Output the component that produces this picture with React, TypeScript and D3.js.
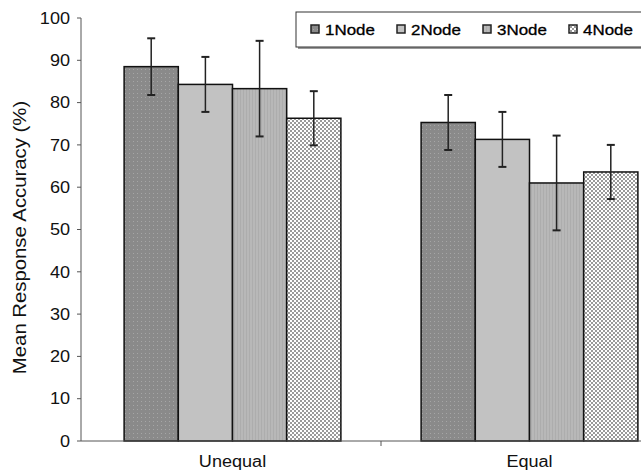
import React from 'react'
import * as d3 from 'd3'

const width = 641
const height = 473

const categories = ['Unequal', 'Equal']
const seriesNames = ['1Node', '2Node', '3Node', '4Node']
const means = [
  [88.5, 84.3, 83.3, 76.3],
  [75.3, 71.3, 61.0, 63.6],
]
const errors = [
  [6.7, 6.5, 11.3, 6.4],
  [6.5, 6.5, 11.2, 6.4],
]
const yTicks = [0, 10, 20, 30, 40, 50, 60, 70, 80, 90, 100]

const fills = ['url(#p1)', 'url(#p2)', 'url(#p3)', 'url(#p4)']

const margin = { left: 81, top: 18, bottom: 441 }
const plotRight = 678

// the original's Helvetica is a bit wider than Arial, so stretch text horizontally
const stretch = 1.13

export default function App() {
  const y = d3.scaleLinear().domain([0, 100]).range([margin.bottom, margin.top])
  const x0 = d3.scaleBand().domain(categories).range([84, plotRight]).paddingInner(0).paddingOuter(0)
  // excel-style gap width
  const inner = d3.scaleBand().domain(seriesNames).range([0, x0.bandwidth()]).paddingOuter(0.74).paddingInner(0)
  const font = 'Arial, "Liberation Sans", sans-serif'

  return (
    <svg width={width} height={height} style={{ position: 'absolute', left: 0, top: 0, background: '#fff' }}>
      <defs>
        <pattern id="p1" width="4" height="4" patternUnits="userSpaceOnUse">
          <rect width="4" height="4" fill="#8a8a8a" />
          <rect x="1" y="1" width="1" height="1" fill="#a6a6a6" />
        </pattern>
        <pattern id="p2" width="4" height="4" patternUnits="userSpaceOnUse">
          <rect width="4" height="4" fill="#c2c2c2" />
        </pattern>
        <pattern id="p3" width="3" height="4" patternUnits="userSpaceOnUse">
          <rect width="3" height="4" fill="#b8b8b8" />
          <rect x="0" width="1" height="4" fill="#adadad" />
        </pattern>
        <pattern id="p4" width="4" height="4" patternUnits="userSpaceOnUse">
          <rect width="4" height="4" fill="#ffffff" />
          <rect x="0" y="0" width="2" height="2" fill="#9a9a9a" />
          <rect x="2" y="2" width="2" height="2" fill="#9a9a9a" />
        </pattern>
      </defs>

      {/* y axis */}
      <line x1={margin.left} x2={margin.left} y1={margin.top} y2={margin.bottom} stroke="#555" strokeWidth={1} />
      {yTicks.map(t => (
        <g key={t}>
          <line x1={margin.left - 4} x2={margin.left} y1={y(t)} y2={y(t)} stroke="#555" />
          <text transform={`translate(${margin.left - 11},${y(t)}) scale(${stretch},1)`} dy="0.36em" textAnchor="end"
            fontFamily={font} fontSize={16} fill="#111">{t}</text>
        </g>
      ))}
      <text
        transform={`translate(26,${(margin.top + margin.bottom) / 2 + 8}) rotate(-90) scale(${stretch},1)`}
        textAnchor="middle" fontFamily={font} fontSize={18} fill="#111"
      >Mean Response Accuracy (%)</text>

      {/* bars */}
      {categories.map((c, ci) => (
        <g key={c} transform={`translate(${x0(c)},0)`}>
          {seriesNames.map((s, si) => {
            const v = means[ci][si]
            const e = errors[ci][si]
            const bx = inner(s) as number
            const cx = bx + inner.bandwidth() / 2
            return (
              <g key={s}>
                <rect x={bx} y={y(v)} width={inner.bandwidth()} height={y(0) - y(v)} fill={fills[si]} stroke="#111" strokeWidth={1.5} />
                <line x1={cx} x2={cx} y1={y(v + e)} y2={y(v - e)} stroke="#222" strokeWidth={1.5} />
                <line x1={cx - 4} x2={cx + 4} y1={y(v + e)} y2={y(v + e)} stroke="#222" strokeWidth={2} />
                <line x1={cx - 4} x2={cx + 4} y1={y(v - e)} y2={y(v - e)} stroke="#222" strokeWidth={2} />
              </g>
            )
          })}
          <text transform={`translate(${x0.bandwidth() / 2},467) scale(${stretch},1)`} textAnchor="middle"
            fontFamily={font} fontSize={16} fill="#111">{c}</text>
        </g>
      ))}

      {/* x axis */}
      <line x1={margin.left} x2={plotRight} y1={margin.bottom} y2={margin.bottom} stroke="#555" />
      {categories.slice(1).map(c => (
        <line key={c} x1={x0(c)} x2={x0(c)} y1={margin.bottom} y2={margin.bottom + 5} stroke="#555" />
      ))}

      {/* legend */}
      <g>
        <rect x={298} y={14} width={360} height={35} fill="#999" />
        <rect x={296} y={12} width={360} height={35} fill="#fff" stroke="#333" strokeWidth={1} />
        {seriesNames.map((s, si) => {
          const lx = 311 + si * 86
          return (
            <g key={s}>
              <rect x={lx} y={25} width={8} height={8} fill={fills[si]} stroke="#222" strokeWidth={1.5} />
              <text transform={`translate(${lx + 14},29.5) scale(${stretch},1)`} dy="0.36em"
                fontFamily={font} fontSize={15} fill="#000" stroke="#000" strokeWidth={0.3}>{s}</text>
            </g>
          )
        })}
      </g>
    </svg>
  )
}
